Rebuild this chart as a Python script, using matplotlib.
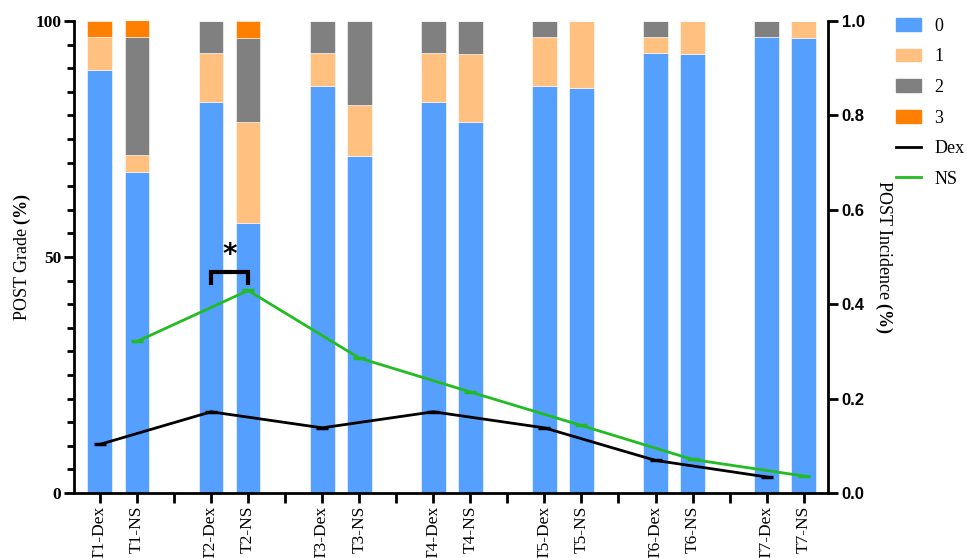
import numpy as np
import matplotlib
matplotlib.use("Agg")
import matplotlib.pyplot as plt
from matplotlib.patches import Patch
from matplotlib.lines import Line2D

plt.rcParams['font.family'] = 'Liberation Serif'
plt.rcParams['mathtext.fontset'] = 'custom'
plt.rcParams['mathtext.rm'] = 'Liberation Serif'
plt.rcParams['mathtext.bf'] = 'Liberation Serif:bold'

# data (percent of patients per grade)
labels = ['T1-Dex', 'T1-NS', '', 'T2-Dex', 'T2-NS', '', 'T3-Dex', 'T3-NS', '',
          'T4-Dex', 'T4-NS', '', 'T5-Dex', 'T5-NS', '', 'T6-Dex', 'T6-NS', '',
          'T7-Dex', 'T7-NS']
bar_names = ['T1-Dex', 'T1-NS', 'T2-Dex', 'T2-NS', 'T3-Dex', 'T3-NS', 'T4-Dex', 'T4-NS',
             'T5-Dex', 'T5-NS', 'T6-Dex', 'T6-NS', 'T7-Dex', 'T7-NS']
grade0 = [89.7, 67.9, 82.8, 57.1, 86.2, 71.4, 82.8, 78.6, 86.2, 85.7, 93.1, 92.9, 96.6, 96.4]
grade1 = [6.9, 3.6, 10.3, 21.4, 6.9, 10.7, 10.3, 14.3, 10.3, 14.3, 3.4, 7.1, 0.0, 3.6]
grade2 = [0.0, 25.0, 6.9, 17.9, 6.9, 17.9, 6.9, 7.1, 3.4, 0.0, 3.4, 0.0, 3.4, 0.0]
grade3 = [3.4, 3.6, 0.0, 3.6, 0.0, 0.0, 0.0, 0.0, 0.0, 0.0, 0.0, 0.0, 0.0, 0.0]

# incidence
dex_inc = [0.103, 0.172, 0.138, 0.172, 0.138, 0.069, 0.034]
ns_inc = [0.321, 0.429, 0.286, 0.214, 0.143, 0.071, 0.036]

colors = ['#559FFF', '#FFC080', '#808080', '#FF8000']
green = '#22BB22'

pos = np.array([labels.index(n) for n in bar_names])
dex_pos = pos[0::2]
ns_pos = pos[1::2]

fig = plt.figure(figsize=(9.67, 5.58), dpi=100)
ax = fig.add_axes([0.0765, 0.1165, 0.7795, 0.846])
ax2 = ax.twinx()

bottom = np.zeros(len(bar_names))
for vals, c in zip([grade0, grade1, grade2, grade3], colors):
    ax.bar(pos, vals, width=0.67, bottom=bottom, color=c, edgecolor='white', linewidth=0.4)
    bottom += np.array(vals)

ax2.plot(dex_pos, dex_inc, color='black', lw=2, marker='_', ms=9, mew=2.5)
ax2.plot(ns_pos, ns_inc, color=green, lw=2, marker='_', ms=9, mew=2.5)

# significance bracket T2
b0, b1 = labels.index('T2-Dex'), labels.index('T2-NS')
ax.plot([b0, b0, b1, b1], [44.5, 46.9, 46.9, 44.5], color='black', lw=3, solid_joinstyle='miter')
ax.text((b0 + b1) / 2, 47.5, '*', ha='center', va='bottom', fontsize=20, fontweight='bold',
        family='DejaVu Sans')

ax.set_xlim(-0.7, 19.65)
ax.set_ylim(0, 100)
ax2.set_ylim(0, 1.0)

ax.set_xticks(range(len(labels)))
ax.set_xticklabels(labels, rotation=90, fontsize=12.5)
ax.set_yticks([0, 50, 100])
ax.set_yticklabels(['0', '50', '100'], fontsize=12.5, fontweight='bold')
ax.set_yticks(np.arange(0, 101, 5), minor=True)
ax2.set_yticks(np.arange(0, 1.01, 0.2))
ax2.set_yticklabels(['%.1f' % v for v in np.arange(0, 1.01, 0.2)], fontsize=12,
                    fontweight='bold', family='Liberation Sans')

for a in (ax, ax2):
    a.spines['top'].set_visible(False)
    for s in ('left', 'right', 'bottom'):
        a.spines[s].set_linewidth(2)
ax.spines['right'].set_visible(False)
ax2.spines['left'].set_visible(False)
ax2.spines['bottom'].set_visible(False)

ax.tick_params(axis='both', which='major', width=2, length=7, pad=2)
ax.tick_params(axis='y', which='minor', width=2, length=5)
ax2.tick_params(axis='y', width=2, length=7, pad=3)

ax.set_ylabel(r'POST Grade $\mathbf{(\%)}$', fontsize=13, labelpad=2)
ax2.set_ylabel(r'POST Incidence $\mathbf{(\%)}$', fontsize=13, rotation=270, labelpad=21)

handles = [Patch(color=c) for c in colors] + [Line2D([], [], color='black', lw=2),
                                              Line2D([], [], color=green, lw=2)]
fig.legend(handles, ['0', '1', '2', '3', 'Dex', 'NS'], loc='upper left',
           bbox_to_anchor=(0.910, 0.997), frameon=False, fontsize=13,
           handlelength=1.4, handleheight=0.7, labelspacing=0.75, handletextpad=0.7)

fig.savefig('out.png', dpi=100)
